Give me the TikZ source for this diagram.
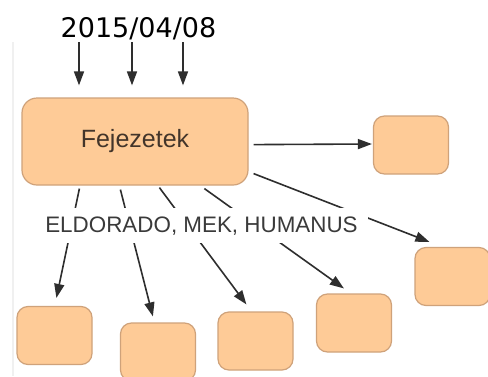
\documentclass[tikz,border=0pt]{standalone}
\usepackage{fontspec}
\setmainfont{Liberation Sans}
\newfontfamily\datefont{DejaVu Sans}
\usetikzlibrary{arrows.meta,calc}
\definecolor{boxfill}{HTML}{FECB97}
\definecolor{boxline}{HTML}{CFA27A}
\definecolor{arrcol}{HTML}{2E2E2E}
\definecolor{txtcol}{HTML}{3A3A3A}
\definecolor{maintxt}{HTML}{43352A}
\pgfdeclarelayer{bg}
\pgfsetlayers{bg,main}
\begin{document}
\begin{tikzpicture}[x=0.5pt,y=-0.5pt,
  bigbox/.style={draw=boxline,fill=boxfill,line width=0.6pt,rounded corners=7.5pt,
    minimum width=113pt,minimum height=43.5pt,inner sep=0pt,
    font=\fontsize{12.5}{14}\selectfont,text=maintxt},
  smallbox/.style={draw=boxline,fill=boxfill,line width=0.6pt,rounded corners=5.5pt,
    minimum width=37.5pt,minimum height=29pt,inner sep=0pt},
  arr/.style={draw=arrcol,line width=0.8pt,-{Triangle[length=7pt,width=5pt]}},
  lbl/.style={fill=white,text=txtcol,inner xsep=5pt,inner ysep=4pt,
    font=\fontsize{11.2}{13}\selectfont}]
\useasboundingbox (0,0) rectangle (488,376);
\node[anchor=base,font=\datefont\fontsize{13.5}{16}\selectfont] (date) at (138.5,37) {2015/04/08};
\node[bigbox] (main) at (135,141.5) {Fejezetek};
\node[smallbox] (r1) at (411,145) {};
\node[smallbox] (r2) at (452.5,276.5) {};
\node[smallbox] (b1) at (54.5,335.5) {};
\node[smallbox] (b2) at (158,352) {};
\node[smallbox] (b3) at (255.5,341) {};
\node[smallbox] (b4) at (354,323) {};
\node[lbl,anchor=base] (lab) at (201.5,232) {ELDORADO, MEK, HUMANUS};
\coordinate (t1) at (79,42);
\coordinate (t2) at (132,42);
\coordinate (t3) at (183,42);
\begin{pgfonlayer}{bg}
\fill[white] (0,0) rectangle (488,376);
\draw[gray!12,line width=1pt] (13,42) -- (13,376);
\draw[arr,shorten >=6pt] (t1) -- (t1 |- main.north);
\draw[arr,shorten >=6pt] (t2) -- (t2 |- main.north);
\draw[arr,shorten >=6pt] (t3) -- (t3 |- main.north);
\draw[arr] ($(main.south east)+(5,-41)$) -- ($(r1.west)+(-1,-1)$);
\draw[arr] ($(main.south east)+(5,-12)$) -- ($(r2.north west)+(15,-5)$);
\draw[arr] ($(main.south west)+(58,3)$) -- ($(b1.north west)+(40,-8)$);
\draw[arr] ($(main.south west)+(99,4)$) -- ($(b2.north west)+(33,-6)$);
\draw[arr] ($(main.south west)+(138,2)$) -- ($(b3.north west)+(29,-7)$);
\draw[arr] ($(main.south west)+(183,3)$) -- ($(b4.north west)+(28,-5)$);
\end{pgfonlayer}
\end{tikzpicture}
\end{document}
